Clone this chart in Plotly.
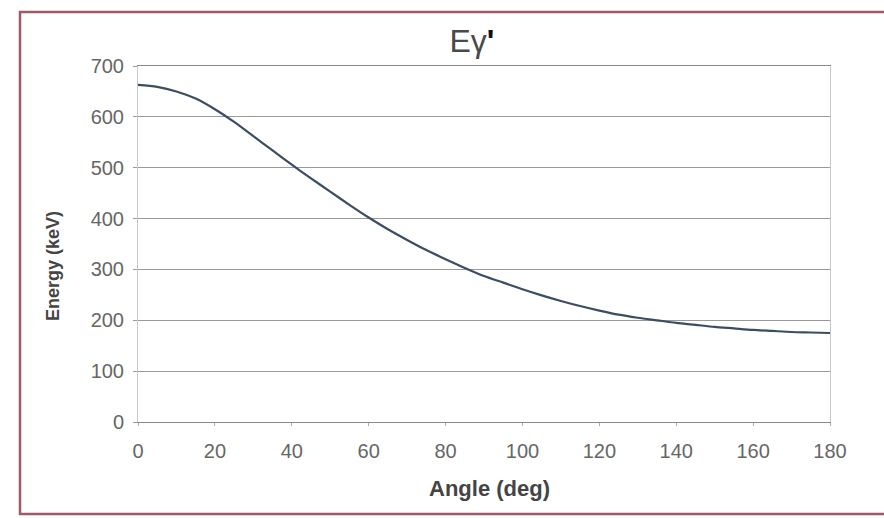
import plotly.graph_objects as go

angle_deg = [0, 5, 10, 15, 20, 25, 30, 35, 40, 45, 50, 55, 60, 65, 70, 75, 80, 85, 90,
             95, 100, 105, 110, 115, 120, 125, 130, 135, 140, 145, 150, 155, 160, 165, 170, 175, 180]
energy_kev = [663, 659, 650, 636, 615, 590, 562, 534, 506, 479, 453, 427, 402, 379, 358, 338, 320, 303, 287,
              274, 261, 249, 238, 228, 219, 211, 205, 200, 195, 191, 187, 184, 181, 179, 177, 176, 175]

x_ticks = [0, 20, 40, 60, 80, 100, 120, 140, 160, 180]
y_ticks = [0, 100, 200, 300, 400, 500, 600, 700]

W, H = 884, 518
L, R, T, B = 138, 54, 66, 96
PW, PH = W - L - R, H - T - B


def px_x(px):
    return (px - L) / PW


def px_y(py):
    return (H - B - py) / PH


fig = go.Figure()
fig.add_trace(go.Scatter(
    x=angle_deg, y=energy_kev, mode="lines",
    line=dict(color="#3b4d63", width=2.2, shape="spline", smoothing=0.8),
    showlegend=False, hoverinfo="skip",
))

fig.update_layout(
    width=W, height=H,
    margin=dict(l=L, r=R, t=T, b=B),
    paper_bgcolor="white", plot_bgcolor="white",
    font=dict(family="Liberation Sans, Arial, sans-serif", color="#5a5a5a"),
    title=dict(
        text="Eγ<span style='color:#111'><b>'</b></span>",
        x=472 / W, xanchor="center", y=1 - 41 / H, yanchor="middle",
        font=dict(family="Liberation Sans, Arial, sans-serif", size=32, color="#4a4a4a"),
    ),
    xaxis=dict(
        range=[0, 180], tickvals=x_ticks, ticktext=[str(v) for v in x_ticks],
        showgrid=False, zeroline=False,
        showline=True, linecolor="#8a8a8a", linewidth=1.3, mirror=True,
        ticks="outside", ticklen=3, tickcolor="#aaaaaa",
        ticklabelstandoff=8,
        tickfont=dict(size=20, color="#666666"),
        fixedrange=True,
    ),
    yaxis=dict(
        range=[0, 700], tickvals=y_ticks, ticktext=[str(v) for v in y_ticks],
        showgrid=True, gridcolor="#999999", gridwidth=1.3, zeroline=False,
        showline=True, linecolor="#c8c8c8", linewidth=1, mirror=True,
        ticks="outside", ticklen=4, tickcolor="#999999",
        ticklabelstandoff=5,
        tickfont=dict(size=20, color="#666666"),
        fixedrange=True,
    ),
    annotations=[
        dict(text="<b>Angle (deg)</b>", xref="paper", yref="paper",
             x=px_x(489), y=px_y(488), xanchor="center", yanchor="middle", showarrow=False,
             font=dict(family="Liberation Sans, Arial, sans-serif", size=22, color="#444444")),
        dict(text="<b>Energy (keV)</b>", xref="paper", yref="paper", textangle=-90,
             x=px_x(53), y=px_y(266), xanchor="center", yanchor="middle", showarrow=False,
             font=dict(family="Liberation Sans, Arial, sans-serif", size=18, color="#444444")),
    ],
    shapes=[
        dict(type="rect", xref="paper", yref="paper",
             x0=px_x(20), x1=px_x(900), y0=px_y(514), y1=px_y(12),
             line=dict(color="#a0596a", width=2.5), fillcolor="rgba(0,0,0,0)", layer="below"),
    ],
)

fig.write_html("out.html")
